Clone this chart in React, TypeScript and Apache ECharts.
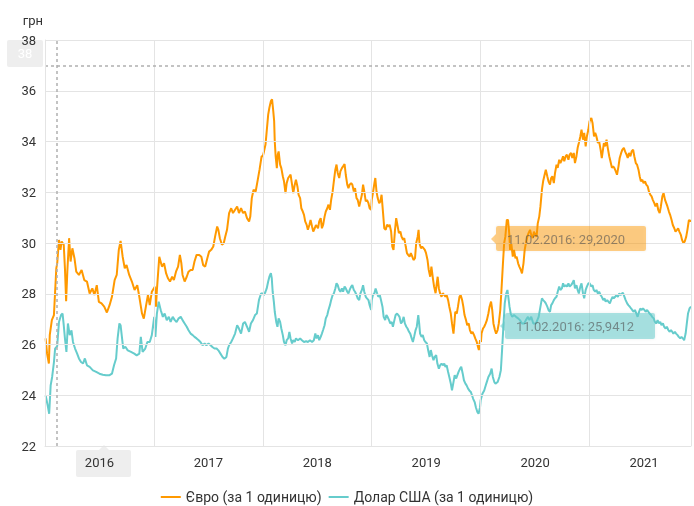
import React, { useEffect, useRef } from 'react';
import * as echarts from 'echarts';

// ---- data: [day of year, value] ----
const START_YEAR = 2016;
const END_POINT = { year: 2021, day: 340 };

const eur2016 = [[2,26.24],[7,25.64],[13,25.25],[16,26.37],[23,26.96],[30,27.16],[34,28.08],[38,29.0],[41,29.2],[47,30.12],[52,29.73],[56,30.06],[63,29.93],[67,29.0],[71,27.71],[75,28.87],[81,30.19],[86,29.27],[92,29.79],[99,29.4],[105,28.87],[114,28.74],[123,28.94],[132,28.54],[141,28.48],[150,28.01],[159,28.21],[166,27.95],[174,28.34],[181,27.68],[190,27.62],[199,27.49],[208,27.26],[217,27.55],[225,27.88],[234,28.54],[241,28.74],[248,29.73],[254,30.08],[261,29.46],[268,29.0],[274,29.13],[283,28.74],[292,28.48],[301,28.15],[310,28.34],[317,27.88],[326,27.22],[332,27.02],[339,27.49],[346,27.95],[352,27.55],[359,28.08]];
const usd2016 = [[2,24.0],[9,23.6],[14,23.27],[19,24.39],[24,24.72],[30,25.3],[34,25.84],[41,25.94],[47,26.89],[54,27.16],[59,27.22],[63,26.76],[67,26.24],[72,25.71],[77,26.83],[83,26.37],[89,26.56],[94,26.1],[101,25.84],[108,25.64],[114,25.45],[121,25.31],[128,25.25],[134,25.45],[141,25.18],[150,25.12],[161,24.98],[172,24.92],[183,24.85],[194,24.81],[205,24.79],[217,24.79],[225,24.85],[232,25.18],[239,25.45],[244,26.24],[250,26.83],[254,26.76],[259,26.24],[263,25.84],[270,25.91],[278,25.77],[289,25.71],[300,25.64],[308,25.57],[317,25.64],[322,26.3],[328,25.71],[337,25.84],[344,26.1],[352,26.1],[359,26.37]];
const eur2017 = [[3,28.28],[7,27.49],[10,28.15],[18,29.46],[27,29.07],[34,29.2],[41,28.8],[47,28.61],[54,28.48],[61,28.67],[67,28.54],[74,28.87],[81,29.07],[87,29.53],[92,29.2],[96,28.74],[103,28.48],[110,28.67],[116,28.87],[123,28.94],[130,28.94],[136,29.27],[143,29.53],[152,29.53],[159,29.46],[165,29.13],[172,29.07],[179,29.4],[185,29.66],[192,29.73],[199,29.86],[205,30.25],[212,30.65],[216,30.52],[221,30.19],[228,29.93],[234,29.99],[239,30.25],[245,30.52],[252,31.18],[259,31.37],[265,31.18],[272,31.31],[279,31.44],[285,31.18],[292,31.37],[299,31.18],[305,31.24],[312,30.98],[319,30.85],[323,31.04],[328,31.77],[334,32.1],[341,32.03],[348,32.49],[354,32.89],[361,33.42]];
const usd2017 = [[1,27.09],[5,26.3],[10,27.22],[16,27.69],[23,27.35],[30,27.09],[36,27.22],[43,26.96],[50,27.09],[56,26.89],[63,27.09],[70,26.96],[76,26.89],[83,27.03],[90,27.09],[96,26.96],[103,26.83],[110,26.7],[116,26.56],[123,26.43],[130,26.37],[136,26.3],[143,26.24],[150,26.17],[156,26.1],[163,25.97],[170,26.04],[176,25.97],[183,26.04],[190,25.97],[196,25.9],[203,25.84],[210,25.84],[216,25.77],[223,25.64],[230,25.51],[236,25.44],[243,25.51],[248,25.84],[252,25.97],[259,26.1],[265,26.24],[272,26.43],[279,26.76],[285,26.63],[292,26.43],[299,26.83],[305,26.89],[312,26.7],[319,26.5],[325,26.83],[332,26.96],[339,27.16],[345,27.22],[352,27.75],[359,28.01]];
const eur2018 = [[0,33.42],[4,33.61],[9,33.88],[13,34.4],[18,35.06],[22,35.33],[27,35.59],[31,35.66],[35,35.2],[38,34.8],[40,34.01],[43,33.42],[47,32.95],[50,33.48],[53,33.61],[58,33.09],[62,32.95],[67,32.63],[71,32.43],[76,31.97],[80,32.36],[85,32.56],[89,32.63],[93,32.69],[98,32.3],[102,31.97],[107,32.3],[111,32.49],[116,32.23],[120,31.9],[125,31.77],[129,31.37],[134,31.24],[138,31.11],[142,30.85],[147,30.71],[151,30.52],[156,30.71],[160,30.91],[165,30.65],[169,30.45],[174,30.58],[178,30.71],[185,30.58],[189,30.85],[194,30.98],[198,30.58],[202,30.71],[207,31.04],[211,31.24],[216,31.37],[220,31.51],[225,31.31],[229,31.7],[234,32.03],[238,32.43],[243,32.89],[247,33.09],[251,32.76],[256,32.56],[260,32.82],[265,32.95],[269,33.02],[274,33.11],[278,32.69],[283,32.3],[287,32.16],[291,32.3],[296,32.36],[300,32.3],[305,32.03],[309,32.16],[314,31.77],[318,31.7],[323,31.44],[327,31.64],[332,31.9],[336,32.3],[340,32.03],[345,31.64],[349,31.7],[354,31.57],[358,31.37],[363,31.31]];
const usd2018 = [[0,28.01],[4,27.95],[9,28.08],[13,28.21],[18,28.48],[22,28.67],[27,28.81],[30,28.61],[33,28.08],[37,27.68],[40,27.29],[45,26.89],[49,26.7],[53,27.03],[58,26.89],[62,26.63],[67,26.37],[71,26.1],[76,25.97],[80,26.17],[85,26.24],[89,26.5],[93,26.24],[98,26.04],[102,26.17],[107,26.1],[111,26.24],[118,26.17],[125,26.24],[131,26.17],[138,26.1],[145,26.13],[151,26.1],[158,26.17],[165,26.1],[171,26.17],[176,26.43],[180,26.24],[185,26.37],[189,26.17],[194,26.3],[198,26.43],[202,26.57],[207,26.76],[211,27.03],[216,27.16],[220,27.36],[225,27.55],[229,27.75],[234,27.95],[238,28.01],[243,28.21],[247,28.41],[251,28.34],[256,28.15],[260,28.08],[265,28.21],[269,28.08],[274,28.28],[278,28.21],[283,28.08],[287,28.01],[291,28.15],[296,28.28],[300,28.34],[305,28.15],[309,28.08],[314,27.95],[318,27.82],[323,27.75],[327,28.01],[332,28.15],[336,28.34],[340,28.08],[345,27.88],[349,27.82],[354,27.75],[358,27.55],[363,27.36]];
const eur2019 = [[0,31.7],[4,31.97],[9,32.36],[12,32.56],[16,32.03],[20,31.77],[25,31.57],[29,31.64],[33,31.9],[38,31.18],[42,30.58],[47,30.52],[51,30.72],[56,30.65],[60,30.72],[65,30.45],[69,29.86],[73,29.73],[78,30.52],[82,30.98],[87,30.65],[91,30.39],[96,30.45],[100,30.25],[105,30.12],[109,30.19],[114,29.86],[118,29.6],[122,29.53],[127,29.46],[131,29.6],[136,29.46],[140,29.33],[145,29.4],[149,29.99],[154,30.25],[157,30.52],[160,29.99],[165,29.79],[169,29.86],[174,29.79],[178,29.73],[182,29.6],[187,29.33],[191,28.94],[196,28.67],[200,29.07],[205,28.61],[209,28.28],[214,28.02],[218,28.41],[221,28.67],[225,28.21],[229,28.02],[234,27.88],[238,28.02],[243,27.95],[247,27.88],[251,27.95],[256,27.75],[260,27.49],[265,27.22],[269,26.83],[274,26.43],[277,26.83],[280,27.29],[285,27.22],[289,27.49],[294,27.88],[298,27.95],[303,27.75],[307,27.49],[311,27.16],[316,26.96],[320,26.76],[325,26.83],[329,26.57],[334,26.43],[338,26.5],[343,26.37],[347,26.24],[352,26.1],[356,25.91],[359,25.78],[363,26.17]];
const usd2019 = [[0,27.75],[4,27.95],[9,28.02],[13,28.21],[18,28.02],[22,27.88],[27,27.95],[31,27.75],[36,27.49],[40,27.09],[45,26.96],[49,27.16],[53,27.09],[58,26.96],[62,26.83],[67,26.89],[71,26.7],[76,26.96],[80,27.16],[85,27.22],[89,27.16],[93,27.09],[98,26.83],[102,26.89],[107,27.09],[111,26.83],[116,26.7],[120,26.63],[125,26.5],[129,26.43],[134,26.24],[138,26.1],[142,26.3],[147,26.57],[151,26.7],[156,27.16],[159,26.83],[162,26.43],[167,26.3],[171,26.37],[176,26.17],[180,26.1],[185,26.04],[189,25.78],[194,25.51],[198,25.78],[202,25.58],[207,25.38],[211,25.51],[216,25.58],[220,25.25],[225,25.05],[229,25.18],[234,25.25],[238,25.18],[243,25.25],[247,25.12],[251,25.18],[256,24.92],[260,24.72],[265,24.46],[269,24.19],[274,24.52],[278,24.79],[283,24.66],[287,24.79],[291,24.92],[296,25.05],[300,25.12],[305,24.85],[309,24.59],[314,24.46],[318,24.39],[323,24.26],[327,24.19],[332,24.13],[336,24.0],[340,23.86],[345,23.73],[349,23.53],[354,23.34],[358,23.27],[363,23.53]];
const eur2020 = [[1,26.1],[3,26.43],[8,26.63],[12,26.7],[17,26.83],[21,26.96],[26,27.22],[30,27.49],[35,27.69],[39,27.36],[43,26.83],[48,26.57],[52,26.43],[57,26.57],[61,26.83],[66,27.36],[70,28.15],[75,29.2],[79,29.99],[83,30.25],[88,30.91],[92,30.91],[96,30.39],[99,29.73],[103,29.99],[108,29.46],[112,29.73],[117,29.4],[121,29.46],[126,29.2],[130,29.07],[135,28.94],[139,28.8],[144,29.2],[148,29.73],[152,29.99],[157,30.25],[161,30.39],[166,30.52],[170,30.32],[175,30.19],[179,30.45],[184,30.32],[188,30.25],[192,30.78],[197,31.04],[201,31.44],[206,32.1],[210,32.43],[215,32.69],[219,32.89],[224,32.63],[228,32.43],[233,32.3],[237,32.56],[241,32.63],[246,32.36],[250,32.76],[255,33.09],[259,32.96],[264,33.28],[268,33.15],[273,33.28],[277,33.42],[281,33.22],[286,33.42],[290,33.48],[295,33.28],[299,33.48],[304,33.55],[308,33.35],[313,33.55],[317,33.15],[322,33.42],[326,33.75],[330,33.94],[335,34.2],[339,34.47],[344,34.07],[348,34.34],[353,33.81],[357,34.2],[362,34.47]];
const usd2020 = [[0,23.8],[6,24.06],[12,24.19],[19,24.46],[26,24.72],[32,24.85],[37,25.05],[41,24.72],[46,24.52],[50,24.46],[57,24.52],[63,24.72],[68,24.99],[72,25.78],[77,26.83],[81,27.62],[86,28.01],[90,28.15],[93,27.88],[97,27.49],[101,27.22],[106,27.09],[112,27.16],[119,27.09],[126,27.03],[132,26.96],[139,26.83],[146,26.83],[152,26.96],[159,27.09],[164,26.96],[170,27.09],[177,26.83],[186,26.83],[195,27.09],[201,27.49],[206,27.82],[210,27.75],[215,27.69],[219,27.62],[224,27.49],[228,27.36],[233,27.29],[237,27.55],[241,27.62],[246,27.75],[250,27.82],[255,27.88],[259,28.08],[264,28.28],[268,28.15],[273,28.21],[277,28.41],[281,28.28],[286,28.34],[290,28.28],[295,28.41],[299,28.28],[304,28.34],[308,28.41],[313,28.54],[317,28.21],[322,28.34],[326,28.15],[330,28.01],[335,28.28],[339,28.41],[344,28.01],[348,27.82],[353,28.15],[357,28.28],[362,28.41]];
const eur2021 = [[0,34.8],[6,34.93],[10,34.73],[15,34.2],[19,34.34],[23,34.2],[28,33.94],[32,34.01],[37,33.68],[41,33.35],[45,33.68],[48,33.94],[52,33.81],[57,34.07],[61,33.75],[66,33.42],[70,33.22],[75,32.96],[79,33.02],[83,32.96],[88,32.82],[92,32.69],[97,33.02],[101,33.35],[106,33.55],[110,33.68],[115,33.75],[119,33.61],[124,33.48],[128,33.35],[132,33.55],[137,33.42],[141,33.61],[146,33.68],[150,33.42],[155,33.15],[159,33.09],[164,32.89],[168,32.63],[172,32.43],[177,32.49],[181,32.36],[186,32.43],[190,32.3],[195,32.23],[199,32.03],[204,31.9],[208,31.84],[212,31.7],[217,31.57],[221,31.44],[226,31.57],[230,31.31],[235,31.18],[239,31.44],[244,31.84],[248,31.97],[253,31.7],[257,31.57],[261,31.44],[266,31.24],[270,31.11],[275,30.91],[279,30.71],[284,30.58],[288,30.45],[293,30.52],[297,30.58],[301,30.45],[306,30.32],[310,30.12],[315,29.99],[319,30.06],[324,30.25],[328,30.52],[333,30.91],[337,30.85],[340,30.91]];
const usd2021 = [[0,28.41],[6,28.28],[10,28.34],[14,28.15],[19,28.08],[23,28.15],[28,28.01],[32,28.08],[37,27.95],[41,27.88],[46,27.75],[50,27.82],[54,27.69],[59,27.75],[63,27.69],[68,27.62],[72,27.75],[77,27.88],[81,27.82],[86,27.88],[90,27.95],[95,27.88],[99,28.01],[104,27.95],[108,28.01],[112,28.04],[117,27.88],[121,27.75],[126,27.62],[130,27.55],[135,27.49],[139,27.42],[143,27.36],[148,27.29],[152,27.36],[157,27.22],[161,27.09],[166,27.29],[170,27.42],[175,27.36],[179,27.42],[184,27.36],[188,27.29],[193,27.36],[197,27.29],[201,27.22],[206,27.16],[210,27.09],[215,27.03],[219,26.89],[224,26.83],[228,26.96],[233,26.83],[237,26.89],[241,26.76],[246,26.83],[250,26.7],[255,26.63],[259,26.7],[264,26.57],[268,26.5],[273,26.57],[277,26.5],[281,26.43],[286,26.5],[290,26.43],[295,26.37],[299,26.3],[304,26.24],[308,26.3],[313,26.24],[317,26.17],[322,26.43],[326,26.83],[330,27.22],[335,27.42],[340,27.49]];

const eurByYear = [eur2016, eur2017, eur2018, eur2019, eur2020, eur2021];
const usdByYear = [usd2016, usd2017, usd2018, usd2019, usd2020, usd2021];

const seriesNames = ['Євро (за 1 одиницю)', 'Долар США (за 1 одиницю)'];
const seriesColors = ['#ff9900', '#66cccc'];

const yTicks = { min: 22, max: 38, step: 2 };

// hover state shown in the picture
const pointer = { year: 2016, day: 41, yValue: 36.97, yLabel: '38', xLabel: '2016' };
const pointerDate = '11.02.2016';
const pointerValues = ['29,2020', '25,9412'];

function daysIn(y: number) { return y % 4 === 0 ? 366 : 365; }
function toX(y: number, d: number) { return y - START_YEAR + d / daysIn(y); }
function build(byYear: number[][][]) {
  const out: number[][] = [];
  byYear.forEach((arr, i) => arr.forEach(([d, v]) => out.push([toX(START_YEAR + i, d), v])));
  return out;
}

const XMAX = toX(END_POINT.year, END_POINT.day);

export default function App() {
  const ref = useRef<HTMLDivElement>(null);
  useEffect(() => {
    if (!ref.current) return;
    const chart = echarts.init(ref.current, undefined, { renderer: 'svg' });
    const font = 'Roboto';
    const labelColor = '#333333';
    const gridColor = '#e4e4e4';
    const boxOrange = 'rgba(255,153,0,0.47)';
    const boxTeal = 'rgba(102,204,204,0.55)';
    const tipText = 'rgba(80,80,80,0.6)';
    chart.setOption({
      animation: false,
      textStyle: { fontFamily: font },
      grid: { left: 45, right: 0, top: 40, bottom: 60, containLabel: false },
      legend: {
        top: 489,
        left: 'center',
        padding: 0,
        icon: 'rect',
        itemWidth: 20,
        itemHeight: 2,
        itemGap: 7,
        textStyle: { fontSize: 14, color: labelColor, fontFamily: font, lineHeight: 16 },
        data: seriesNames,
      },
      xAxis: [
        {
          type: 'value', min: 0, max: XMAX, interval: 1, position: 'bottom', z: 5,
          axisLine: { show: true, lineStyle: { color: gridColor } },
          axisTick: { show: false },
          axisLabel: { show: false },
          splitLine: { show: true, lineStyle: { color: gridColor, width: 1 } },
        },
        {
          type: 'value', min: 0, max: XMAX, interval: 0.5, position: 'bottom', z: 5,
          axisLine: { show: false }, axisTick: { show: false }, splitLine: { show: false },
          axisLabel: {
            margin: 10, fontSize: 13, color: labelColor, fontFamily: font,
            formatter: (v: number) => Math.abs(v - Math.floor(v) - 0.5) < 1e-6 ? String(START_YEAR + Math.floor(v)) : '',
          },
        },
      ],
      yAxis: {
        type: 'value', min: yTicks.min, max: yTicks.max, interval: yTicks.step, z: 5,
        name: 'грн', nameLocation: 'end', nameGap: 13,
        nameTextStyle: { align: 'right', fontSize: 13, color: labelColor, fontFamily: font, padding: [0, 2, 0, 0] },
        axisLine: { show: true, lineStyle: { color: gridColor } },
        axisTick: { show: false },
        axisLabel: { margin: 9, fontSize: 13, color: labelColor, fontFamily: font },
        splitLine: { show: true, lineStyle: { color: gridColor, width: 1 } },
      },
      series: [
        {
          name: seriesNames[1], type: 'line', xAxisIndex: 0, data: build(usdByYear), symbol: 'none', z: 2,
          lineStyle: { width: 2, color: seriesColors[1] }, itemStyle: { color: seriesColors[1] },
        },
        {
          name: seriesNames[0], type: 'line', xAxisIndex: 0, data: build(eurByYear), symbol: 'none', z: 3,
          lineStyle: { width: 2, color: seriesColors[0] }, itemStyle: { color: seriesColors[0] },
          markLine: {
            silent: true, symbol: 'none', animation: false,
            label: { show: false },
            lineStyle: { type: [3, 3], color: '#b0b0b0', width: 1.5 },
            data: [{ xAxis: toX(pointer.year, pointer.day) }, { yAxis: pointer.yValue }],
          },
        },
      ],
      graphic: [
        { type: 'rect', z: 0, shape: { x: 7, y: 40, width: 36, height: 27, r: 2 }, style: { fill: '#eeeeee' } },
        { type: 'text', z: 1, x: 25, y: 53, style: { text: pointer.yLabel, fill: '#ffffff', fontSize: 13, fontFamily: font, align: 'center', verticalAlign: 'middle', textAlign: 'center', textVerticalAlign: 'middle' } },
        { type: 'polygon', z: 0, shape: { points: [[99, 450], [104, 445], [109, 450]] }, style: { fill: '#eeeeee' } },
        { type: 'rect', z: 0, shape: { x: 76, y: 450, width: 55, height: 27, r: 2 }, style: { fill: '#eeeeee' } },
        {
          type: 'group', z: 100, children: [
            { type: 'polygon', z: 100, shape: { points: [[491, 239], [496, 234], [496, 244]] }, style: { fill: boxOrange } },
            { type: 'rect', z: 100, shape: { x: 496, y: 226, width: 150, height: 25, r: 2 }, style: { fill: boxOrange, shadowBlur: 3, shadowColor: 'rgba(0,0,0,0.12)' } },
            { type: 'text', z: 101, x: 507, y: 239, style: { text: pointerDate + ': ' + pointerValues[0], fill: tipText, fontSize: 13, fontFamily: font, verticalAlign: 'middle', textVerticalAlign: 'middle' } },
            { type: 'polygon', z: 100, shape: { points: [[500, 326], [505, 321], [505, 331]] }, style: { fill: boxTeal } },
            { type: 'rect', z: 100, shape: { x: 505, y: 313, width: 150, height: 26, r: 2 }, style: { fill: boxTeal, shadowBlur: 3, shadowColor: 'rgba(0,0,0,0.12)' } },
            { type: 'text', z: 101, x: 516, y: 326, style: { text: pointerDate + ': ' + pointerValues[1], fill: tipText, fontSize: 13, fontFamily: font, verticalAlign: 'middle', textVerticalAlign: 'middle' } },
          ],
        },
      ],
    });
    return () => chart.dispose();
  }, []);
  return <div ref={ref} style={{ position: 'fixed', left: 0, top: 0, width: 694, height: 506 }} />;
}
